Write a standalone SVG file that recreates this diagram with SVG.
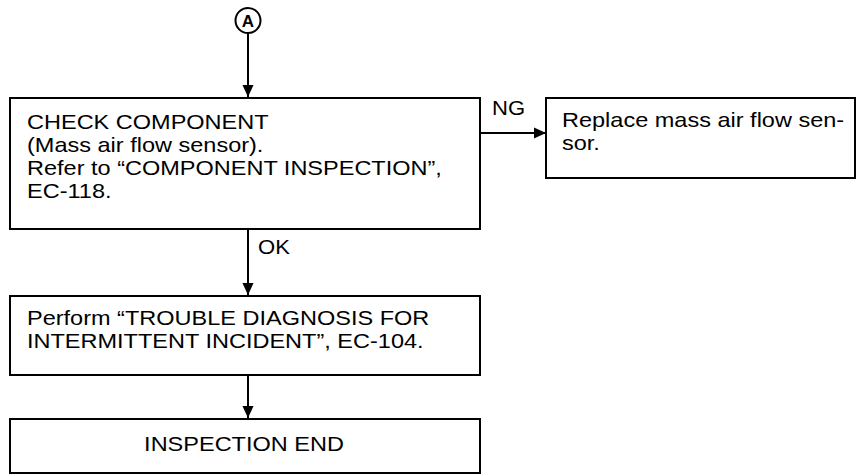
<svg xmlns="http://www.w3.org/2000/svg" width="856" height="474" viewBox="0 0 856 474">
<defs>
<marker id="ah" markerWidth="12" markerHeight="14" refX="13" refY="6" orient="auto" markerUnits="userSpaceOnUse" viewBox="0 0 13 12">
<path d="M0,0 L13,6 L0,12 Z" fill="#000"/>
</marker>
</defs>
<style>
.box{fill:#fff;stroke:#000;stroke-width:2}
.t{font-family:"Liberation Sans",Arial,sans-serif;font-size:21px;fill:#000}
.c{fill:none;stroke:#000;stroke-width:2}
</style>
<rect width="856" height="474" fill="#fff"/>
<g id="connectors">
<line class="c" x1="248" y1="33" x2="248" y2="97" marker-end="url(#ah)"/>
<line class="c" x1="480" y1="133" x2="546" y2="133" marker-end="url(#ah)"/>
<line class="c" x1="248" y1="229" x2="248" y2="295" marker-end="url(#ah)"/>
<line class="c" x1="248" y1="375" x2="248" y2="418" marker-end="url(#ah)"/>
<text class="t" transform="translate(492,115) scale(1.05,1)">NG</text>
<text class="t" transform="translate(258,254) scale(1.05,1)">OK</text>
</g>
<g id="nodeA">
<circle cx="248" cy="20.5" r="12.5" fill="#fff" stroke="#000" stroke-width="2"/>
<text x="248" y="27" text-anchor="middle" font-family="Liberation Sans,Arial,sans-serif" font-weight="bold" font-size="17">A</text>
</g>
<g id="check">
<rect class="box" x="10" y="98" width="470" height="131"/>
<text class="t" transform="translate(27,129) scale(1.12,1)">CHECK COMPONENT</text>
<text class="t" transform="translate(27,152) scale(1.12,1)">(Mass air flow sensor).</text>
<text class="t" transform="translate(27,175) scale(1.12,1)">Refer to “COMPONENT INSPECTION”,</text>
<text class="t" transform="translate(27,198) scale(1.12,1)">EC-118.</text>
</g>
<g id="replace">
<rect class="box" x="546" y="98" width="309" height="80"/>
<text class="t" transform="translate(562,127) scale(1.12,1)">Replace mass air flow sen-</text>
<text class="t" transform="translate(562,150) scale(1.12,1)">sor.</text>
</g>
<g id="perform">
<rect class="box" x="10" y="296" width="470" height="79"/>
<text class="t" transform="translate(27,325) scale(1.12,1)">Perform “TROUBLE DIAGNOSIS FOR</text>
<text class="t" transform="translate(27,348) scale(1.12,1)">INTERMITTENT INCIDENT”, EC-104.</text>
</g>
<g id="end">
<rect class="box" x="10" y="419" width="470" height="54"/>
<text class="t" text-anchor="middle" transform="translate(244,451) scale(1.12,1)">INSPECTION END</text>
</g>
</svg>
